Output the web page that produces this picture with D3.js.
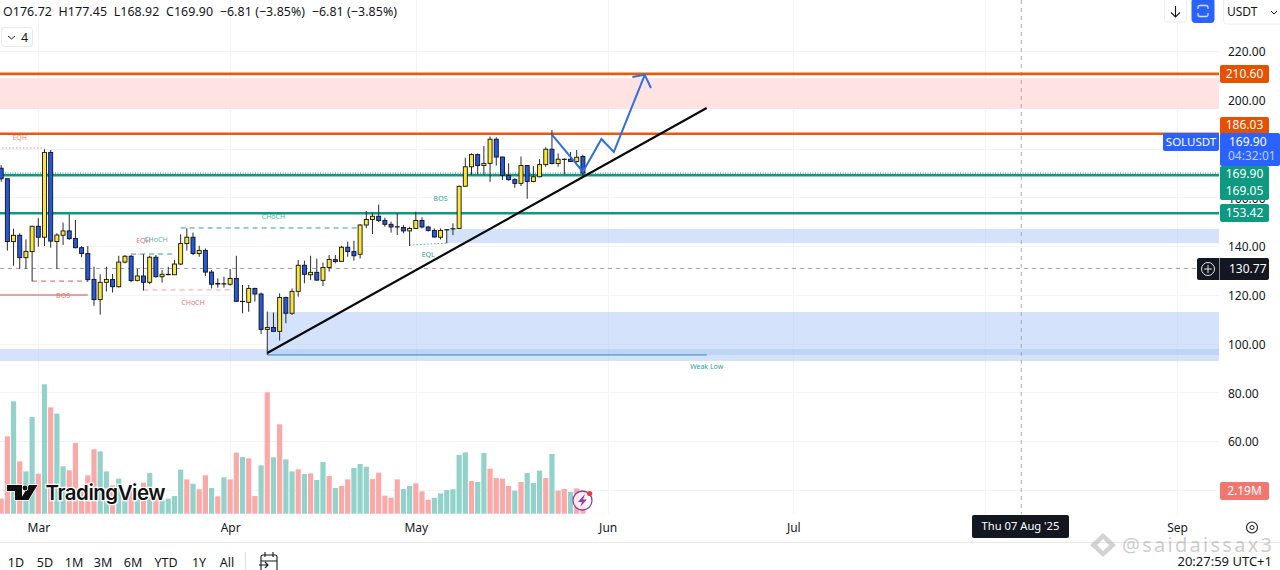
<!DOCTYPE html>
<html><head><meta charset="utf-8">
<script src="https://cdn.jsdelivr.net/npm/d3@7"></script>
<style>
html,body{margin:0;padding:0;background:#fff;overflow:hidden}
svg{display:block;font-family:"Noto Sans",sans-serif}
</style></head><body><svg id="c" width="1280" height="570"></svg>
<script>
const opens=[171.9,167.6,141.8,144.4,135.2,137.7,148.1,143.6,178.4,141.8,144.4,146.2,143.1,139.3,136.9,126.3,118.0,125.1,126.3,123.3,133.4,135.8,125.9,127.7,125.1,135.4,127.4,128.4,128.2,132.6,141.0,143.6,136.9,138.2,129.3,124.6,124.5,124.3,126.7,117.3,116.9,122.6,120.3,105.8,106.6,105.0,118.9,112.4,121.4,132.1,128.2,129.2,125.9,131.2,134.4,133.7,139.5,137.7,136.6,148.6,150.9,152.2,150.5,148.9,147.9,147.6,146.2,147.2,150.5,147.8,146.4,143.6,146.7,147.1,147.2,164.5,172.5,177.5,173.0,173.9,183.8,176.5,169.0,167.2,165.7,173.0,166.5,168.4,173.4,179.7,173.8,175.6,175.6,174.7,176.72];
const highs=[173.2,167.6,147.1,145.2,142.7,148.3,151.4,179.7,179.4,145.2,149.6,153.0,150.7,140.0,140.0,131.5,128.4,131.5,128.5,136.0,136.3,136.3,130.6,136.6,136.0,136.3,130.2,131.5,134.3,144.8,147.3,145.5,140.1,139.0,130.2,126.7,127.4,130.6,136.0,124.0,124.0,122.9,120.9,113.1,112.7,120.6,119.2,122.6,134.3,134.0,136.0,134.8,133.2,136.3,136.3,140.1,141.8,142.2,149.0,154.4,153.7,157.0,151.6,150.0,153.4,148.6,147.9,154.1,151.8,148.3,147.2,147.2,146.8,149.3,164.8,176.2,178.0,177.9,181.0,184.9,184.6,176.7,173.9,167.8,176.7,173.2,172.8,175.6,180.5,187.6,178.0,176.0,178.6,179.4,177.45];
const lows=[166.4,138.1,131.9,130.6,130.6,125.5,139.7,140.0,139.3,130.6,140.4,142.5,139.0,135.4,125.4,115.5,111.8,121.3,120.9,122.9,132.9,125.1,125.5,121.7,124.3,127.0,125.0,128.1,128.1,132.1,138.1,136.3,135.6,127.7,122.6,122.9,122.9,123.7,117.2,112.4,113.0,117.2,103.9,95.3,104.7,101.2,108.3,111.7,119.2,124.7,126.0,125.8,123.6,129.5,132.9,133.6,135.6,134.0,134.9,147.3,144.9,149.8,147.9,145.5,144.5,145.2,140.0,147.1,147.2,145.9,143.4,142.7,141.1,144.5,147.2,164.5,169.1,169.4,169.1,166.3,173.0,167.1,166.8,163.9,164.6,159.4,166.1,168.2,172.5,173.5,172.5,169.4,174.5,174.2,168.92];
const closes=[167.6,141.8,144.4,135.2,137.8,148.1,143.6,178.4,142.0,144.5,146.2,143.0,139.3,136.9,126.2,118.0,125.1,126.3,123.3,133.4,135.8,125.8,127.7,125.1,135.4,127.4,128.4,128.2,132.6,141.0,143.6,136.9,138.2,129.3,124.3,124.4,124.4,126.7,117.3,117.2,122.6,120.3,105.8,106.6,105.0,118.9,112.4,121.4,132.1,128.4,129.2,126.0,131.2,134.5,133.6,139.5,137.7,136.0,148.6,150.9,152.2,150.5,148.9,147.8,147.8,146.2,147.2,150.5,147.8,146.4,143.7,146.4,146.6,147.0,164.5,172.5,177.5,173.0,173.9,183.8,176.5,169.0,167.2,165.7,173.0,166.5,168.4,173.4,179.7,173.8,175.6,175.5,174.7,176.4,169.90];
const volumes=[1.45,7.46,10.84,5.05,4.08,9.33,3.86,12.48,10.26,9.65,4.57,4.18,6.82,2.41,3.70,6.21,6.01,4.08,2.73,3.38,1.77,2.25,2.09,2.99,3.92,1.77,1.29,1.45,1.70,4.25,3.31,2.89,2.35,3.70,2.48,1.67,3.51,3.31,5.89,5.47,5.34,1.70,4.66,11.71,5.44,8.62,5.24,4.08,4.28,3.83,3.89,3.25,4.98,3.63,2.48,2.67,3.31,4.41,4.79,4.53,3.34,3.96,1.74,1.54,3.31,2.38,2.67,2.93,2.15,1.35,1.54,1.96,2.28,2.35,5.66,5.92,3.15,3.06,5.85,4.34,3.44,3.38,2.67,2.22,3.06,3.92,2.96,4.15,3.44,5.76,2.22,2.38,2.12,2.44,2.19];
const volumeSides="rrgrggrgrggrrrrrggrggrgrgrggggrgrrgrgrrgrrgrgrggrgrggrgrrgggrrrrrggrrrggggggrggrrrrgrgggrgrrgr".split("");
const priceTicks=[220,200,180,160,140,120,100,80,60,40];
const priceLabels=[220,200,160,140,120,100,80,60];
const rangeButtons=["1D","5D","1M","3M","6M","YTD","1Y","All"];
const firstDay=-6; // Feb 23 relative to Mar 1
const pinkZone=[208.9,196.2], blueZones=[{d0:66,top:147.0,bot:141.2},{d0:37,top:112.9,bot:95.3},{d0:-7,top:97.7,bot:92.8}];
const orangeLevels=[210.60,186.03], greenLevels=[169.05,153.42], lastPrice=169.90, crossPrice=130.77;
const trendDays=[37,108], trendPrices=[96.1,196.6];
const pathDays=[83,88,91,93,98], pathPrices=[185.7,170.5,183.9,178.6,210.2];
const headDays=[96,98,99], headPrices=[209.3,210.2,204.8];

const day=n=>new Date(Date.UTC(2025,2,1+n));
const svg=d3.select("#c");
const PR=1219;
const x=d3.scaleUtc().domain([day(0),day(184)]).range([38.3,1177]);
const y=d3.scaleLinear().domain([60,220]).range([441,51]);
const vMax=d3.max(volumes);
const vy=d3.scaleLinear().domain([0,vMax]).range([513.7,513.7-vMax*10.37]);
const X=i=>x(day(firstDay+i));
const DAY=n=>x(day(n));
const clipId="pane";
svg.append("defs").append("clipPath").attr("id",clipId).append("rect").attr("x",0).attr("y",0).attr("width",PR).attr("height",542);

// Grid
const grid=svg.append("g").attr("stroke","#f4f4f5").attr("stroke-width",1);
grid.selectAll("line.h").data(priceTicks).join("line").attr("x1",0).attr("x2",PR).attr("y1",d=>Math.round(y(d))+.5).attr("y2",d=>Math.round(y(d))+.5);
const months=[0,31,61,92,122,153,184];
grid.selectAll("line.v").data(months).join("line").attr("x1",d=>Math.round(DAY(d))+.5).attr("x2",d=>Math.round(DAY(d))+.5).attr("y1",0).attr("y2",514);
svg.append("line").attr("x1",0).attr("x2",1280).attr("y1",542.5).attr("y2",542.5).attr("stroke","#e8e8ea");

const chart=svg.append("g").attr("clip-path",`url(#${clipId})`);
// Zones
chart.append("rect").attr("x",0).attr("width",PR).attr("y",y(pinkZone[0])).attr("height",y(pinkZone[1])-y(pinkZone[0])).attr("fill","#ffe3e3");
chart.selectAll("rect.z").data(blueZones).join("rect").attr("x",d=>DAY(d.d0)).attr("width",d=>PR-DAY(d.d0)).attr("y",d=>y(d.top)).attr("height",d=>y(d.bot)-y(d.top)).attr("fill","#a9c6f7").attr("fill-opacity",.5);

// Volume
chart.selectAll("rect.v").data(volumes).join("rect").attr("x",(d,i)=>X(i)-2.6).attr("width",5.2).attr("y",d=>vy(d)).attr("height",d=>vy(0)-vy(d)).attr("fill",(d,i)=>volumeSides[i]==="g"?"#93d2ca":"#f8a9a8");

// Crosshair / horizontal
chart.append("line").attr("x1",0).attr("x2",PR).attr("y1",y(crossPrice)).attr("y2",y(crossPrice)).attr("stroke","#8a8a8a").attr("stroke-dasharray","4 4").attr("stroke-width",.8);
chart.append("line").attr("x1",DAY(159)-1).attr("x2",DAY(159)-1).attr("y1",0).attr("y2",514).attr("stroke","#9a9a9a").attr("stroke-dasharray","4 4").attr("stroke-width",.8);

// SMC annotations
const anno=[
 {d:[-7,1],p:[180.2,180.2],c:"#f08a8a",dash:"1.5 2"},
 {d:[-1,8.7],p:[125.6,125.6],c:"#e05555",dash:"5 4"},
 {d:[-7,8.7],p:[119.9,119.9],c:"#cf4a46",dash:null},
 {d:[15,22.6],p:[136.7,136.7],c:"#26a69a",dash:"5 4"},
 {d:[15,17.5],p:[136.7,136.7],c:"#ef9a9a",dash:"1.5 2"},
 {d:[17,31.5],p:[122,122],c:"#f4a0a0",dash:"5 4"},
 {d:[23.9,52],p:[147.4,147.4],c:"#26a69a",dash:"5 4"},
 {d:[60,66],p:[140.4,141.2],c:"#4db6ac",dash:"1.5 2"},
 {d:[37,108],p:[95.3,95.3],c:"#2a8fa8",dash:null}
];
chart.selectAll("line.a").data(anno).join("line").attr("x1",d=>DAY(d.d[0])).attr("x2",d=>DAY(d.d[1])).attr("y1",d=>y(d.p[0])).attr("y2",d=>y(d.p[1])).attr("stroke",d=>d.c).attr("stroke-width",1).attr("stroke-dasharray",d=>d.dash);
const tags=[["EQH",-3,184.3,"#f28b82"],["EQH",17,142.0,"#e57373"],["CHoCH",19,142.4,"#4db6ac"],["BOS",4,119.5,"#e57373"],["CHoCH",25,116.7,"#e57373"],["CHoCH",38,151.9,"#4db6ac"],["BOS",65,159.4,"#26a69a"],["EQL",63,136.4,"#26a69a"],["Weak Low",108,90.5,"#26a69a"]];
chart.selectAll("text.t").data(tags).join("text").attr("x",d=>DAY(d[1])).attr("y",d=>y(d[2])).attr("text-anchor","middle").attr("dominant-baseline","middle").attr("font-size",7).attr("fill",d=>d[3]).text(d=>d[0]);

// Levels
chart.selectAll("line.o").data(orangeLevels).join("line").attr("x1",0).attr("x2",PR).attr("y1",d=>y(d)).attr("y2",d=>y(d)).attr("stroke","#e65c0f").attr("stroke-width",2.6);
chart.selectAll("line.g").data(greenLevels).join("line").attr("x1",0).attr("x2",PR).attr("y1",d=>y(d)).attr("y2",d=>y(d)).attr("stroke","#0e9a80").attr("stroke-width",2.6);
chart.append("line").attr("x1",0).attr("x2",PR).attr("y1",y(lastPrice)).attr("y2",y(lastPrice)).attr("stroke","#0e9a80").attr("stroke-dasharray","1 1.5").attr("stroke-width",1);

// Candles
const cg=chart.append("g");
cg.selectAll("line.w").data(opens).join("line").attr("x1",(d,i)=>X(i)).attr("x2",(d,i)=>X(i)).attr("y1",(d,i)=>y(highs[i])).attr("y2",(d,i)=>y(lows[i])).attr("stroke","#2a2a2a").attr("stroke-width",1);
cg.selectAll("rect.b").data(opens).join("rect").attr("x",(d,i)=>X(i)-2).attr("width",4).attr("y",(d,i)=>y(Math.max(d,closes[i]))).attr("height",(d,i)=>Math.abs(y(d)-y(closes[i]))).attr("fill",(d,i)=>closes[i]>=d?"#fbe73c":"#2459dc").attr("stroke","#111").attr("stroke-width",.9);

// Trend and projection
const lg=d3.line().x(d=>DAY(d[0])).y(d=>y(d[1]));
chart.append("path").attr("d",lg(d3.zip(trendDays,trendPrices))).attr("stroke","#0a0a0a").attr("stroke-width",2.2).attr("fill","none");
chart.append("path").attr("d",lg(d3.zip(pathDays,pathPrices))).attr("stroke","#2f6fe0").attr("stroke-width",2).attr("fill","none");
chart.append("path").attr("d",lg(d3.zip(headDays,headPrices))).attr("stroke","#2f6fe0").attr("stroke-width",2).attr("fill","none");

// Axes
const ax=svg.append("g").attr("transform",`translate(${PR},1)`).call(d3.axisRight(y).tickValues(priceLabels).tickSize(0).tickPadding(9).tickFormat(d3.format(".2f")));
ax.select(".domain").remove();
ax.selectAll("text").attr("font-size",12).attr("fill","#131722").attr("font-family","'Noto Sans',sans-serif");
const bx=svg.append("g").attr("transform","translate(0,522)").call(d3.axisBottom(x).tickValues(months.slice(0,5).concat([184]).map(day)).tickSize(0).tickPadding(1).tickFormat(d=>d3.utcFormat("%b")(d)));
bx.select(".domain").remove();
bx.selectAll("text").attr("font-size",12).attr("fill","#131722").attr("font-family","'Noto Sans',sans-serif");

// Price tags
function tag(x0,y0,w,h,fill,lines){
  svg.append("rect").attr("x",x0).attr("y",y0).attr("width",w).attr("height",h).attr("rx",2).attr("fill",fill);
  lines.forEach(l=>svg.append("text").attr("x",l.x||x0+w/2).attr("y",l.y).attr("text-anchor",l.x?"start":"middle").attr("dominant-baseline","middle").attr("font-size",l.s||12).attr("fill",l.c||"#fff").text(l.t));
}
tag(1220,65,49,18,"#e65100",[{t:"210.60",y:74.5}]);
tag(1220,117,49,18,"#e65100",[{t:"186.03",y:126}]);
tag(1220,166,49,34,"#0e9a80",[{t:"169.90",y:174.5},{t:"169.05",y:191.5}]);
tag(1220,133,60,33,"#2962ff",[{t:"169.90",y:143,x:1229},{t:"04:32:01",y:157,x:1228,c:"#bcd0ff"}]);
tag(1163,133,56,18,"#2962ff",[{t:"SOLUSDT",y:142.5,s:11.5}]);
tag(1220,204,49,18,"#0e9a80",[{t:"153.42",y:213.5}]);
tag(1197,258,72,22,"#131722",[{t:"130.77",y:269.5,x:1229}]);
svg.append("line").attr("x1",1219.5).attr("x2",1219.5).attr("y1",258).attr("y2",280).attr("stroke","#fff").attr("stroke-opacity",.5);
svg.append("circle").attr("cx",1208).attr("cy",269).attr("r",6.5).attr("fill","none").attr("stroke","#e6e6e6");
svg.append("path").attr("d","M1204 269H1212M1208 265V273").attr("stroke","#e6e6e6");
tag(1220,482,49,18,"#f0766f",[{t:"2.19M",y:491.5}]);
tag(972,515,97,23,"#131722",[{t:"Thu 07 Aug '25",y:527,s:11.2}]);

// Legend
svg.append("text").attr("x",3).attr("y",16).attr("font-size",12.4).attr("fill","#131722").attr("textLength",394).attr("xml:space","preserve").text("O176.72  H177.45  L168.92  C169.90  −6.81 (−3.85%)  −6.81 (−3.85%)");
svg.append("rect").attr("x",1.5).attr("y",27.5).attr("width",31).attr("height",19).attr("rx",3).attr("fill","#fff").attr("stroke","#e8e8ea");
svg.append("path").attr("d","M8 36L11.5 39L15 36").attr("fill","none").attr("stroke","#131722");
svg.append("text").attr("x",21).attr("y",42).attr("font-size",12.5).attr("fill","#131722").text("4");

// Top right buttons
svg.append("rect").attr("x",1164.5).attr("y",-3).attr("width",22).attr("height",25).attr("rx",3).attr("fill","#fff").attr("stroke","#eeeeee");
svg.append("path").attr("d","M1175.5 6V17M1171 12.5L1175.5 17L1180 12.5").attr("fill","none").attr("stroke","#131722").attr("stroke-width",1.1);
svg.append("rect").attr("x",1191.5).attr("y",-2).attr("width",23).attr("height",25).attr("rx",4).attr("fill","#2962ff");
svg.append("path").attr("d","M1198 9V7.5Q1198 5.5 1200 5.5H1206Q1208 5.5 1208 7.5V9M1198 13V14.5Q1198 16.5 1200 16.5H1206Q1208 16.5 1208 14.5V13").attr("fill","none").attr("stroke","#cfe0ff").attr("stroke-width",1.3);
svg.append("rect").attr("x",1223.5).attr("y",-3).attr("width",60).attr("height",27).attr("rx",3).attr("fill","#fff").attr("stroke","#eeeeee");
svg.append("text").attr("x",1227).attr("y",16).attr("font-size",12).attr("fill","#131722").text("USDT");
svg.append("path").attr("d","M1271 11L1274 14L1277 11").attr("fill","none").attr("stroke","#131722");

// Logo
const logo=svg.append("g").attr("fill","#0f0f0f").attr("stroke","#fff").attr("stroke-width",1.4).attr("paint-order","stroke");
logo.append("path").attr("d","M7 485H22V500H15V491H7ZM29 485H37.5L28.5 500H20Z");
logo.append("circle").attr("cx",25).attr("cy",488).attr("r",2.4);
logo.append("text").attr("x",45.5).attr("y",500).attr("font-size",20.5).attr("font-weight",600).attr("font-family","Inter,sans-serif").attr("fill","#111").attr("stroke-width",2.5).attr("textLength",120).text("TradingView");

// Bolt icon
svg.append("circle").attr("cx",582.5).attr("cy",500.5).attr("r",9.5).attr("fill","#fff").attr("fill-opacity",.75).attr("stroke","#8e3fae").attr("stroke-width",1.3);
svg.append("path").attr("d","M585 494L578 502H582L580 507L587 499.5H583Z").attr("fill","#8e3fae");
svg.append("circle").attr("cx",589.7).attr("cy",493.5).attr("r",2.6).attr("fill","#f23645");

// Gear
svg.append("circle").attr("cx",1252).attr("cy",527.5).attr("r",5.5).attr("fill","none").attr("stroke","#131722").attr("stroke-width",1.1);
svg.append("circle").attr("cx",1252).attr("cy",527.5).attr("r",2).attr("fill","none").attr("stroke","#131722");

// Bottom bar
const btnX=[16,45,74,103,133,166,199,227];
svg.selectAll("text.r").data(rangeButtons).join("text").attr("x",(d,i)=>btnX[i]).attr("y",567).attr("text-anchor","middle").attr("font-size",12.5).attr("fill","#131722").text(d=>d);
svg.append("line").attr("x1",245.5).attr("x2",245.5).attr("y1",552).attr("y2",570).attr("stroke","#e0e0e0");
svg.append("path").attr("d","M261 570V557Q261 555 263 555H275Q277 555 277 557V570M261 561H277M265 552V557M273 552V557M259 565H268M265 562L268 565L265 568").attr("fill","none").attr("stroke","#131722").attr("stroke-width",1.1);

// Watermark
const wm=svg.append("g").attr("opacity",.42);
wm.append("path").attr("d","M1103 533L1116 545L1103 557L1090 545ZM1103 539L1109 545L1103 551L1097 545Z").attr("fill","#999").attr("fill-rule","evenodd");
wm.append("text").attr("x",1122).attr("y",552).attr("font-size",20).attr("fill","#8a8a8a").attr("textLength",150).text("@saidaissax3");
svg.append("text").attr("x",1272).attr("y",566).attr("text-anchor","end").attr("font-size",13).attr("fill","#131722").text("20:27:59 UTC+1");
</script></body></html>
